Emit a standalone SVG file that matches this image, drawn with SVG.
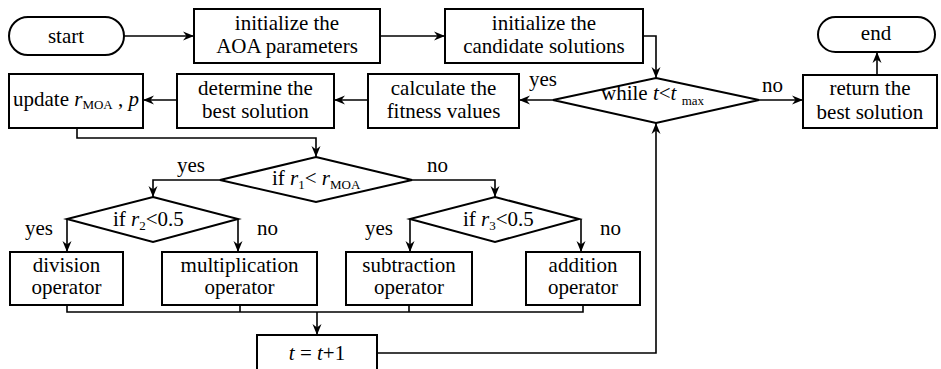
<svg xmlns="http://www.w3.org/2000/svg" width="941" height="369" viewBox="0 0 941 369">
<defs>
<marker id="ah" markerUnits="userSpaceOnUse" markerWidth="12" markerHeight="10" refX="11" refY="5" orient="auto">
<path d="M0,0.5 L11,5 L0,9.5 L3.5,5 z" fill="#000"/>
</marker>
<style>
.box{fill:#fff;stroke:#000;stroke-width:2}
.t{font-family:"Liberation Serif","Times New Roman",serif;font-size:21px;fill:#000;text-anchor:middle}
.l{font-family:"Liberation Serif","Times New Roman",serif;font-size:21px;fill:#000}
.i{font-style:italic}
.s{font-size:13px}
.c{fill:none;stroke:#000;stroke-width:1.6}
.a{marker-end:url(#ah)}
</style>
</defs>
<rect width="941" height="369" fill="#fff"/>

<g id="connectors">
<path class="c a" d="M124,36 L194,36"/>
<path class="c a" d="M380,36 L445,36"/>
<path class="c a" d="M643,36 L656,36 L656,78"/>
<path class="c a" d="M553,100 L519,100"/>
<path class="c a" d="M368,100 L334,100"/>
<path class="c a" d="M177,100 L143,100"/>
<path class="c a" d="M759,100 L803,100"/>
<path class="c a" d="M877,75 L877,52"/>
<path class="c a" d="M77,128 L77,138 L316,138 L316,157"/>
<path class="c a" d="M220,180 L153,180 L153,197"/>
<path class="c a" d="M412,180 L495,180 L495,197"/>
<path class="c a" d="M67,219 L67,252"/>
<path class="c a" d="M238,219 L238,252"/>
<path class="c a" d="M410,219 L410,252"/>
<path class="c a" d="M581,219 L581,252"/>
<path class="c" d="M67,305 L67,312 L583,312 L583,305 M240,305 L240,312 M409,305 L409,312"/>
<path class="c a" d="M317,312 L317,335"/>
<path class="c a" d="M377,353 L656,353 L656,123" stroke="#444"/>
<text class="l" x="529" y="86">yes</text>
<text class="l" x="762" y="92">no</text>
<text class="l" x="177" y="172">yes</text>
<text class="l" x="427" y="172">no</text>
<text class="l" x="25" y="235">yes</text>
<text class="l" x="257" y="235">no</text>
<text class="l" x="365" y="235">yes</text>
<text class="l" x="600" y="235">no</text>
</g>

<g id="start">
<rect class="box" x="9" y="17" width="115" height="38" rx="19"/>
<text class="t" x="66" y="43">start</text>
</g>
<g id="init-aoa">
<rect class="box" x="194" y="9" width="186" height="54"/>
<text class="t" x="287" y="30">initialize the</text>
<text class="t" x="287" y="53">AOA parameters</text>
</g>
<g id="init-cand">
<rect class="box" x="445" y="9" width="198" height="54"/>
<text class="t" x="544" y="30">initialize the</text>
<text class="t" x="544" y="53">candidate solutions</text>
</g>
<g id="while">
<polygon class="box" points="656,78 759,100 656,123 553,100"/>
<text class="l" x="601" y="100">while <tspan class="i">t</tspan>&lt;<tspan class="i">t</tspan> <tspan class="s" dy="5">max</tspan></text>
</g>
<g id="end">
<rect class="box" x="818" y="17" width="117" height="35" rx="17.5"/>
<text class="t" x="876" y="40">end</text>
</g>
<g id="return">
<rect class="box" x="803" y="75" width="134" height="53"/>
<text class="t" x="870" y="95">return the</text>
<text class="t" x="870" y="119">best solution</text>
</g>
<g id="calc">
<rect class="box" x="368" y="74" width="151" height="54"/>
<text class="t" x="443.5" y="95">calculate the</text>
<text class="t" x="443.5" y="118">fitness values</text>
</g>
<g id="determine">
<rect class="box" x="177" y="74" width="157" height="54"/>
<text class="t" x="255.5" y="95">determine the</text>
<text class="t" x="255.5" y="118">best solution</text>
</g>
<g id="update">
<rect class="box" x="9" y="74" width="134" height="54"/>
<text class="l" x="13" y="106">update <tspan class="i">r</tspan><tspan class="s" dy="3">MOA</tspan><tspan dy="-3"> , </tspan><tspan class="i">p</tspan></text>
</g>
<g id="if-r1">
<polygon class="box" points="316,157 412,180 316,202 220,180"/>
<text class="l" x="272" y="185">if <tspan class="i">r</tspan><tspan class="s" dy="4">1</tspan><tspan dy="-4">&lt; </tspan><tspan class="i">r</tspan><tspan class="s" dy="4">MOA</tspan></text>
</g>
<g id="if-r2">
<polygon class="box" points="153,197 238,219 153,242 67,219"/>
<text class="l" x="113" y="226">if <tspan class="i">r</tspan><tspan class="s" dy="4">2</tspan><tspan dy="-4">&lt;0.5</tspan></text>
</g>
<g id="if-r3">
<polygon class="box" points="495,197 579,219 495,242 410,219"/>
<text class="l" x="463" y="226">if <tspan class="i">r</tspan><tspan class="s" dy="4">3</tspan><tspan dy="-4">&lt;0.5</tspan></text>
</g>
<g id="division">
<rect class="box" x="10" y="252" width="113" height="53"/>
<text class="t" x="66.5" y="272">division</text>
<text class="t" x="66.5" y="294">operator</text>
</g>
<g id="multiplication">
<rect class="box" x="162" y="252" width="155" height="53"/>
<text class="t" x="239.5" y="272">multiplication</text>
<text class="t" x="239.5" y="294">operator</text>
</g>
<g id="subtraction">
<rect class="box" x="346" y="252" width="126" height="53"/>
<text class="t" x="409" y="272">subtraction</text>
<text class="t" x="409" y="294">operator</text>
</g>
<g id="addition">
<rect class="box" x="526" y="252" width="114" height="53"/>
<text class="t" x="583" y="272">addition</text>
<text class="t" x="583" y="294">operator</text>
</g>
<g id="increment">
<rect class="box" x="257" y="335" width="120" height="40"/>
<text class="t" x="317" y="360"><tspan class="i">t</tspan> = <tspan class="i">t</tspan>+1</text>
</g>
</svg>
